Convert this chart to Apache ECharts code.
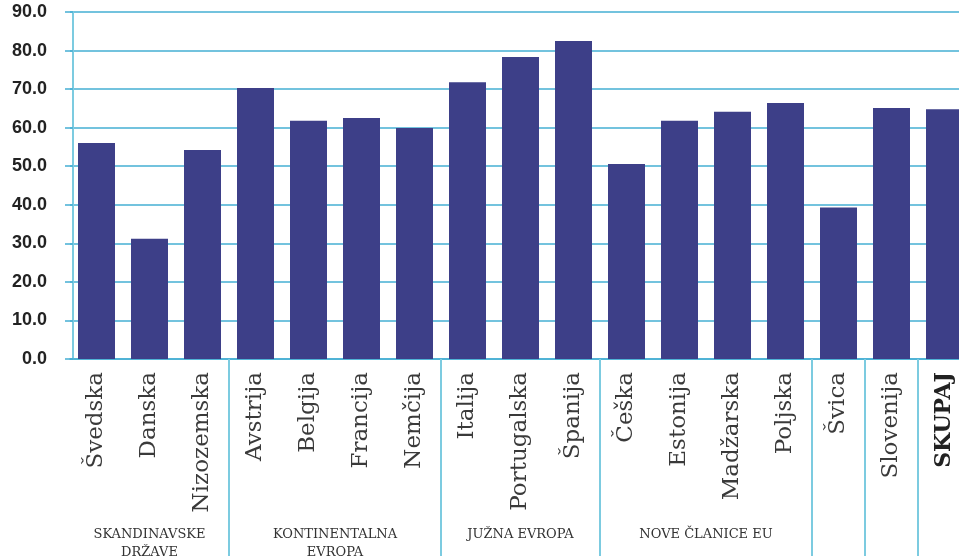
<!DOCTYPE html>
<html>
<head>
<meta charset="utf-8">
<script src="https://cdn.jsdelivr.net/npm/echarts@6/dist/echarts.min.js"></script>
<style>
html,body{margin:0;padding:0;background:#fff;}
#chart{width:959px;height:556px;}
</style>
</head>
<body>
<div id="chart"></div>
<script>
const categories = ['Švedska','Danska','Nizozemska','Avstrija','Belgija','Francija','Nemčija','Italija','Portugalska','Španija','Češka','Estonija','Madžarska','Poljska','Švica','Slovenija','SKUPAJ'];
const values = [56.0, 31.2, 54.2, 70.3, 61.8, 62.5, 59.9, 71.8, 78.3, 82.5, 50.6, 61.8, 64.1, 66.4, 39.3, 65.1, 64.8];
const groupNames = ['SKANDINAVSKE\nDRŽAVE', 'KONTINENTALNA\nEVROPA', 'JUŽNA EVROPA', 'NOVE ČLANICE EU'];
const groupSizes = [3, 4, 3, 4];
const yTicks = [0, 10, 20, 30, 40, 50, 60, 70, 80, 90];

// separators at group boundaries (category index where a new block starts)
const boundaryStarts = [3, 7, 10, 14, 15, 16];

// half-step axis for group labels
const halfSlots = [];
for (let i = 0; i <= categories.length * 2; i++) halfSlots.push('');
let start = 0;
groupNames.forEach((g, k) => {
  const centerHalf = start * 2 + groupSizes[k];
  halfSlots[centerHalf] = g;
  start += groupSizes[k];
});

const serif = '"DejaVu Serif", serif';
const teal = '#45afd3';
const light = '#7ccbe0';

const chart = echarts.init(document.getElementById('chart'), null, {renderer: 'canvas'});
chart.setOption({
  animation: false,
  grid: {left: 70, top: 12, width: 901, height: 347, containLabel: false, outerBoundsMode: 'none'},
  xAxis: [
    {
      type: 'category',
      data: categories,
      position: 'bottom',
      axisLine: {show: true, lineStyle: {color: teal, width: 1.5}},
      axisTick: {
        show: true,
        length: 200,
        interval: function (index) { return boundaryStarts.indexOf(index) !== -1; },
        lineStyle: {color: light, width: 2}
      },
      axisLabel: {
        rotate: 90,
        interval: 0,
        margin: 13,
        fontFamily: serif,
        fontSize: 23,
        color: '#3a3a3a',
        formatter: function (v) { return v === 'SKUPAJ' ? '{b|' + v + '}' : v; },
        rich: {b: {fontFamily: serif, fontSize: 22, fontWeight: 'bold', color: '#222'}}
      }
    },
    {
      type: 'category',
      data: halfSlots,
      boundaryGap: false,
      position: 'bottom',
      axisLine: {show: false},
      axisTick: {show: false},
      axisLabel: {
        interval: 0,
        margin: 167,
        fontFamily: serif,
        fontSize: 13,
        lineHeight: 18,
        color: '#333',
        verticalAlign: 'top'
      }
    }
  ],
  yAxis: {
    type: 'value',
    min: 0,
    max: 90,
    interval: 10,
    offset: -3,
    axisLine: {show: true, lineStyle: {color: light, width: 2}},
    axisTick: {show: true, length: 8, lineStyle: {color: teal, width: 1.5}},
    splitLine: {show: true, lineStyle: {color: teal, width: 1.5}},
    axisLabel: {
      margin: 26,
      fontFamily: '"Liberation Sans", Arial, sans-serif',
      fontWeight: 'bold',
      fontSize: 18,
      color: '#222',
      formatter: function (v) { return yTicks.indexOf(v) !== -1 ? v.toFixed(1) : ''; }
    }
  },
  series: [{
    type: 'bar',
    data: values,
    barWidth: 37,
    itemStyle: {color: '#3d3f88'},
    xAxisIndex: 0
  }]
});
</script>
</body>
</html>
